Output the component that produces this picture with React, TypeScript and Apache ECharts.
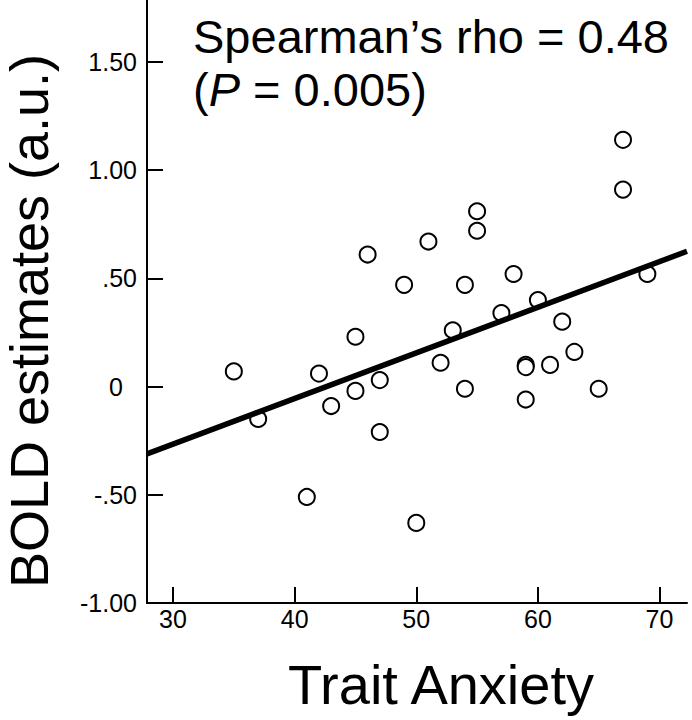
import React, { useEffect, useRef } from "react";
import * as echarts from "echarts";

const traitAnxiety = [35, 37, 41, 42, 43, 45, 45, 46, 47, 47, 49, 50, 51, 52, 53, 54, 54, 55, 55, 57, 58, 59, 59, 59, 60, 61, 62, 63, 65, 67, 67, 69];
const boldEstimates = [0.07, -0.15, -0.51, 0.06, -0.09, 0.23, -0.02, 0.61, 0.03, -0.21, 0.47, -0.63, 0.67, 0.11, 0.26, 0.47, -0.01, 0.81, 0.72, 0.34, 0.52, 0.1, 0.09, -0.06, 0.4, 0.1, 0.3, 0.16, -0.01, 1.14, 0.91, 0.52];
const fitLine = [[27.86, -0.311], [72.26, 0.625]];
const xTicks = [30, 40, 50, 60, 70];
const xTickLabels = ["30", "40", "50", "60", "70"];
const yTicks = [-1, -0.5, 0, 0.5, 1, 1.5];
const yTickLabels = ["-1.00", "-.50", "0", ".50", "1.00", "1.50"];
const xRange = [27.86, 72.26];
const yRange = [-1, 1.786];
const statLine1 = "Spearman\u2019s rho = 0.48";
const xTitle = "Trait Anxiety";
const yTitle = "BOLD estimates (a.u.)";

const FONT = "'Liberation Sans', Arial, Helvetica, sans-serif";

export default function App() {
  const ref = useRef<HTMLDivElement>(null);
  useEffect(() => {
    if (!ref.current) return;
    const chart = echarts.init(ref.current, null, { renderer: "svg" });
    const points = traitAnxiety.map((x, i) => [x, boldEstimates[i]]);
    chart.setOption({
      animation: false,
      backgroundColor: "#fff",
      grid: { left: 147, right: 5, top: 0, bottom: 117, containLabel: false },
      xAxis: {
        type: "value",
        min: xRange[0],
        max: xRange[1],
        splitLine: { show: false },
        axisLine: { show: true, onZero: false, lineStyle: { color: "#000", width: 2 } },
        axisTick: { show: true, inside: true, length: 16, customValues: xTicks, lineStyle: { color: "#000", width: 2 } },
        axisLabel: {
          customValues: xTicks,
          margin: 3,
          color: "#000",
          fontSize: 25,
          fontFamily: FONT,
          formatter: (v: number) => xTickLabels[xTicks.indexOf(v)] ?? "",
        },
      },
      yAxis: {
        type: "value",
        min: yRange[0],
        max: yRange[1],
        splitLine: { show: false },
        axisLine: { show: true, onZero: false, lineStyle: { color: "#000", width: 2 } },
        axisTick: { show: true, inside: true, length: 16, customValues: yTicks, lineStyle: { color: "#000", width: 2 } },
        axisLabel: {
          customValues: yTicks,
          margin: 10,
          color: "#000",
          fontSize: 25,
          fontFamily: FONT,
          formatter: (v: number) => {
            const idx = yTicks.findIndex((t) => Math.abs(t - v) < 1e-9);
            const s = idx >= 0 ? yTickLabels[idx] : "";
            return s === "0" ? "{z|0}" : s;
          },
          rich: { z: { fontSize: 25, fontFamily: FONT, color: "#000", padding: [0, 14, 0, 0] } },
        },
      },
      series: [
        {
          type: "scatter",
          data: points,
          symbol: "circle",
          symbolSize: 16,
          itemStyle: { color: "#fff", borderColor: "#000", borderWidth: 2, opacity: 1 },
          z: 2,
        },
        {
          type: "line",
          data: fitLine,
          symbol: "none",
          lineStyle: { color: "#000", width: 5.5 },
          z: 3,
        },
      ],
      graphic: [
        {
          type: "text",
          x: 193,
          y: 36.5,
          style: { text: statLine1, font: `47px ${FONT}`, fill: "#000", textAlign: "left", textVerticalAlign: "middle" },
        },
        {
          type: "text",
          x: 193,
          y: 89.5,
          style: {
            text: "({i|P} = 0.005)",
            font: `47px ${FONT}`,
            fill: "#000",
            textAlign: "left",
            textVerticalAlign: "middle",
            rich: { i: { fontStyle: "italic", fontSize: 47, fontFamily: FONT, fill: "#000" } },
          },
        },
        {
          type: "text",
          x: 441,
          y: 684.5,
          style: { text: xTitle, font: `56px ${FONT}`, fill: "#000", textAlign: "center", textVerticalAlign: "middle" },
        },
        {
          type: "text",
          x: 29,
          y: 321,
          rotation: Math.PI / 2,
          style: { text: yTitle, font: `54px ${FONT}`, fill: "#000", textAlign: "center", textVerticalAlign: "middle" },
        },
      ],
    });
    return () => chart.dispose();
  }, []);
  return <div ref={ref} style={{ position: "fixed", left: 0, top: 0, width: 692, height: 720 }} />;
}
